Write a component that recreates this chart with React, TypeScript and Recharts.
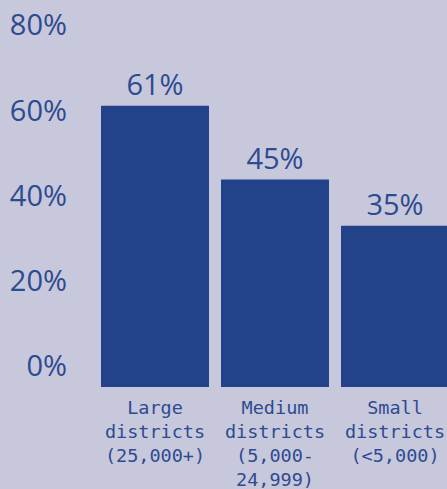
import React from 'react'
import { BarChart, Bar, XAxis, YAxis, LabelList } from 'recharts'

const categories = ['Large districts', 'Medium districts', 'Small districts']
const tickLines: string[][] = [
  ['Large', 'districts', '(25,000+)'],
  ['Medium', 'districts', '(5,000-', '24,999)'],
  ['Small', 'districts', '(<5,000)'],
]
const shares = [61, 45, 35]
const yTicks = [0, 20, 40, 60, 80]

const BG = '#c8c8dc'
const BAR = '#22428a'
const TEXT = '#2d4b90'
const MONO = '"DejaVu Sans Mono", monospace'
const SANS = '"Open Sans", sans-serif'

const data = categories.map((name, i) => ({ name, idx: i, value: shares[i] }))

function CategoryTick({ x, y, payload }: { x?: number; y?: number; payload?: { value: string; index: number } }) {
  const lines = tickLines[payload?.index ?? 0] ?? []
  return (
    <text x={x} y={(y ?? 0) + 19} textAnchor="middle" fill={TEXT} fontFamily={MONO} fontSize={18.5}>
      {lines.map((line, i) => (
        <tspan key={i} x={x} dy={i === 0 ? 0 : 24}>
          {line}
        </tspan>
      ))}
    </text>
  )
}

function PercentTick({ x, y, payload }: { x?: number; y?: number; payload?: { value: number } }) {
  return (
    <text x={x} y={y} dy="0.36em" textAnchor="end" fill={TEXT} fontSize={29} fontFamily={SANS}>
      {`${payload?.value}%`}
    </text>
  )
}

export default function App() {
  return (
    <div
      style={{
        position: 'absolute',
        left: 0,
        top: 0,
        width: 447,
        height: 489,
        overflow: 'hidden',
        background: BG,
      }}
    >
      <BarChart width={460} height={489} data={data} margin={{ top: 10, right: 5, left: 0, bottom: 0 }}>
        <XAxis
          dataKey="name"
          axisLine={false}
          tickLine={false}
          height={102}
          interval={0}
          tick={<CategoryTick />}
        />
        {/* bars use their own scale; the labels sit on a slightly different one */}
        <YAxis yAxisId="bars" hide width={0} type="number" domain={[0, 81.8]} />
        <YAxis
          yAxisId="labels"
          type="number"
          domain={[-4.93, 83.52]}
          ticks={yTicks}
          allowDataOverflow
          width={95}
          axisLine={false}
          tickLine={false}
          tickSize={0}
          tickMargin={28}
          tick={<PercentTick />}
        />
        <Bar yAxisId="bars" dataKey="value" fill={BAR} barSize={108} isAnimationActive={false}>
          <LabelList
            dataKey="value"
            position="top"
            offset={11}
            formatter={(v: number) => `${v}%`}
            fill={TEXT}
            fontSize={29}
            fontFamily={SANS}
          />
        </Bar>
      </BarChart>
    </div>
  )
}
